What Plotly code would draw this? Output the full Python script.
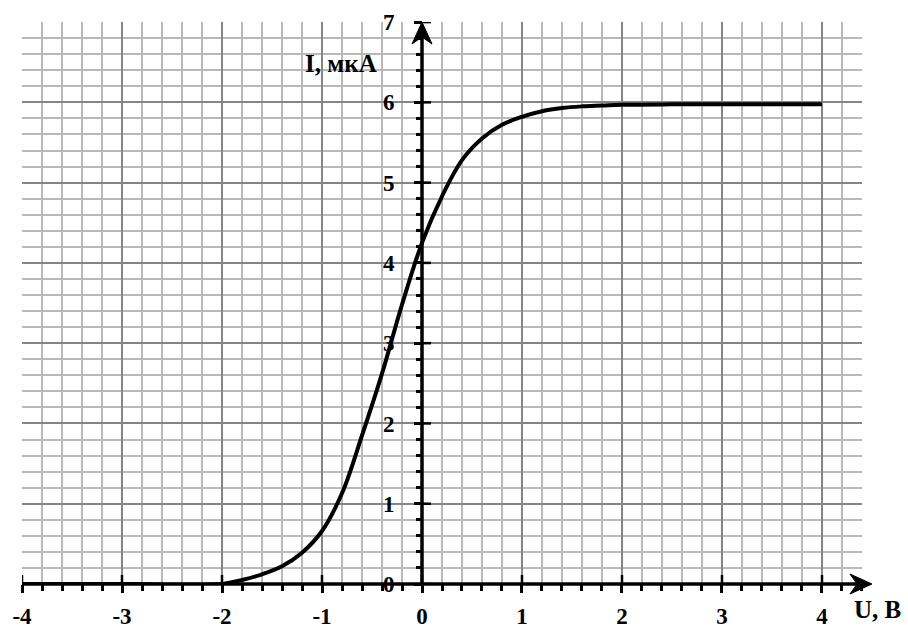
import plotly.graph_objects as go

# ---- data ----
U = [-4.0, -3.0, -2.0, -1.8, -1.6, -1.4, -1.2, -1.0, -0.8, -0.6, -0.4, -0.2,
     0.0, 0.2, 0.4, 0.6, 0.8, 1.0, 1.2, 1.4, 1.6, 1.8, 2.0, 2.5, 3.0, 3.5, 4.0]
I = [0.0, 0.0, 0.0, 0.05, 0.12, 0.22, 0.39, 0.66, 1.13, 1.85, 2.62, 3.48,
     4.25, 4.83, 5.28, 5.55, 5.72, 5.82, 5.89, 5.93, 5.95, 5.96, 5.97, 5.975, 5.975, 5.975, 5.975]

x_ticks = [-4, -3, -2, -1, 0, 1, 2, 3, 4]
x_tick_labels = ["-4", "-3", "-2", "-1", "0", "1", "2", "3", "4"]
y_ticks = [0, 1, 2, 3, 4, 5, 6, 7]
y_tick_labels = ["0", "1", "2", "3", "4", "5", "6", "7"]

x_title = "U, В"
y_title = "I, мкА"

X_RANGE = [-4.0, 4.4001]
Y_RANGE = [0.0, 7.001]
X_ARROW_TIP = 4.5

FONT = "Liberation Serif, Times New Roman, serif"
MINOR_GRID = "#b9b9b9"
MAJOR_GRID = "#858585"


def px_frac(v):
    return (v - X_RANGE[0]) / (X_RANGE[1] - X_RANGE[0])


fig = go.Figure()
fig.add_trace(go.Scatter(
    x=U, y=I, mode="lines",
    line=dict(color="black", width=4, shape="spline", smoothing=1.0),
    hoverinfo="skip", showlegend=False,
))

tickfont = dict(family=FONT, size=23, color="black", weight="bold")

fig.update_layout(
    width=908, height=630,
    margin=dict(l=22, r=46, t=22, b=46),
    paper_bgcolor="white", plot_bgcolor="white",
    showlegend=False,
    xaxis=dict(
        range=X_RANGE, showline=False, zeroline=False, automargin=False,
        tickvals=x_ticks, ticktext=x_tick_labels, tickfont=tickfont,
        showgrid=True, gridcolor=MAJOR_GRID, gridwidth=1.5,
        ticks="outside", ticklen=8, tickwidth=2.5, tickcolor="black",
        ticklabelstandoff=3,
        minor=dict(dtick=0.2, tick0=0, showgrid=True, gridcolor=MINOR_GRID, gridwidth=1.5,
                   ticks="outside", ticklen=6, tickwidth=2.5, tickcolor="black"),
    ),
    yaxis=dict(
        range=Y_RANGE, showline=False, zeroline=False, automargin=False,
        anchor="free", position=px_frac(0.0),
        tickvals=y_ticks, ticktext=y_tick_labels, tickfont=tickfont,
        showgrid=True, gridcolor=MAJOR_GRID, gridwidth=1.5,
        ticks="outside", ticklen=8, tickwidth=2.5, tickcolor="black",
        ticklabelstandoff=15,
        minor=dict(dtick=0.2, tick0=0, showgrid=True, gridcolor=MINOR_GRID, gridwidth=1.5,
                   ticks="outside", ticklen=6, tickwidth=2.5, tickcolor="black"),
    ),
)

shapes = []
# x axis line with arrow
shapes.append(dict(type="line", xref="paper", yref="paper",
                   x0=0, x1=px_frac(X_ARROW_TIP - 0.1), y0=0, y1=0,
                   line=dict(color="black", width=3.5), layer="above"))
shapes.append(dict(type="path", xref="paper", yref="paper",
                   xsizemode="pixel", ysizemode="pixel",
                   xanchor=px_frac(X_ARROW_TIP), yanchor=0,
                   path="M 0,0 L -22,10 L -15,0 L -22,-10 Z",
                   fillcolor="black", line=dict(color="black", width=1), layer="above"))
# y axis line with arrow
shapes.append(dict(type="line", xref="x", yref="y",
                   x0=0, x1=0, y0=0, y1=Y_RANGE[1] - 0.15,
                   line=dict(color="black", width=3.5), layer="above"))
shapes.append(dict(type="path", xref="x", yref="paper",
                   xsizemode="pixel", ysizemode="pixel",
                   xanchor=0, yanchor=1,
                   path="M 0,0 L -10,-22 L 0,-15 L 10,-22 Z",
                   fillcolor="black", line=dict(color="black", width=1), layer="above"))
# major ticks crossing the axes (the other half)
for v in x_ticks:
    shapes.append(dict(type="line", xref="x", yref="y", ysizemode="pixel", yanchor=0,
                       x0=v, x1=v, y0=0, y1=9,
                       line=dict(color="black", width=2.5), layer="above"))
for v in y_ticks:
    shapes.append(dict(type="line", xref="x", yref="y", xsizemode="pixel", xanchor=0,
                       x0=0, x1=9, y0=v, y1=v,
                       line=dict(color="black", width=2.5), layer="above"))
fig.update_layout(shapes=shapes)

fig.add_annotation(x=-0.81, y=6.49, xref="x", yref="y", text=y_title, showarrow=False,
                   xanchor="center", yanchor="middle",
                   font=dict(family=FONT, size=25, color="black", weight="bold"))
fig.add_annotation(x=1.0179, y=-0.046, xref="paper", yref="paper", text=x_title, showarrow=False,
                   xanchor="center", yanchor="middle",
                   font=dict(family=FONT, size=25, color="black", weight="bold"))

fig.write_html("out.html")
